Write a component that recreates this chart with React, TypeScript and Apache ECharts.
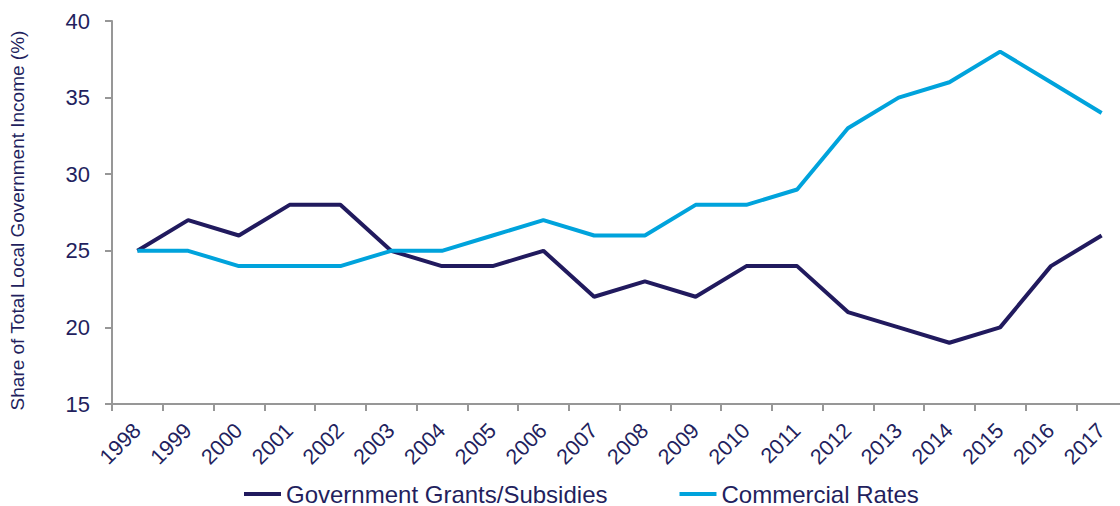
import React, { useEffect, useRef } from "react";
import * as echarts from "echarts";

const years = ["1998","1999","2000","2001","2002","2003","2004","2005","2006","2007","2008","2009","2010","2011","2012","2013","2014","2015","2016","2017"];
const grants = [25,27,26,28,28,25,24,24,25,22,23,22,24,24,21,20,19,20,24,26];
const rates = [25,25,24,24,24,25,25,26,27,26,26,28,28,29,33,35,36,38,36,34];
const seriesNames = ["Government Grants/Subsidies", "Commercial Rates"];
const yTitle = "Share of Total Local Government Income (%)";

const NAVY = "#211a5e";
const BLUE = "#00a3dc";
const TEXT = "#231f5e";
const AXIS = "#979797";
const FONT = "Liberation Sans, Arial, sans-serif";

export default function App() {
  const ref = useRef<HTMLDivElement>(null);
  useEffect(() => {
    const chart = echarts.init(ref.current!, null, { renderer: "svg" });
    chart.setOption({
      animation: false,
      textStyle: { fontFamily: FONT },
      grid: { left: 112, right: 0, top: 21, bottom: 102, containLabel: false },
      legend: {
        top: 482,
        left: 244,
        padding: 0,
        itemWidth: 37,
        itemHeight: 4,
        itemGap: 72,
        icon: "rect",
        textStyle: { color: TEXT, fontSize: 24, lineHeight: 21, fontFamily: FONT },
        data: seriesNames,
      },
      xAxis: {
        type: "category",
        data: years,
        boundaryGap: true,
        axisLine: { lineStyle: { color: AXIS, width: 2 } },
        axisTick: { show: true, length: 7, lineStyle: { color: AXIS, width: 2 } },
        axisLabel: { rotate: 45, color: TEXT, fontSize: 21.5, margin: 23, interval: 0, fontFamily: FONT },
      },
      yAxis: {
        type: "value",
        min: 15,
        max: 40,
        interval: 5,
        name: yTitle,
        nameLocation: "middle",
        nameGap: 85,
        nameTextStyle: { color: TEXT, fontSize: 19, fontFamily: FONT, padding: [0, 16, 0, 0] },
        splitLine: { show: false },
        axisLine: { show: true, lineStyle: { color: AXIS, width: 2 } },
        axisTick: { show: true, length: 7, lineStyle: { color: AXIS, width: 2 } },
        axisLabel: { color: TEXT, fontSize: 22, margin: 22, fontFamily: FONT },
      },
      series: [
        {
          name: seriesNames[0],
          type: "line",
          data: grants,
          symbol: "none",
          lineStyle: { color: NAVY, width: 4 },
          itemStyle: { color: NAVY },
        },
        {
          name: seriesNames[1],
          type: "line",
          data: rates,
          symbol: "none",
          lineStyle: { color: BLUE, width: 4 },
          itemStyle: { color: BLUE },
        },
      ],
    });
    return () => chart.dispose();
  }, []);
  return (
    <div style={{ position: "absolute", left: 0, top: 0, width: 1120, height: 506, overflow: "hidden" }}>
      <div ref={ref} style={{ width: 1127, height: 506 }} />
    </div>
  );
}
